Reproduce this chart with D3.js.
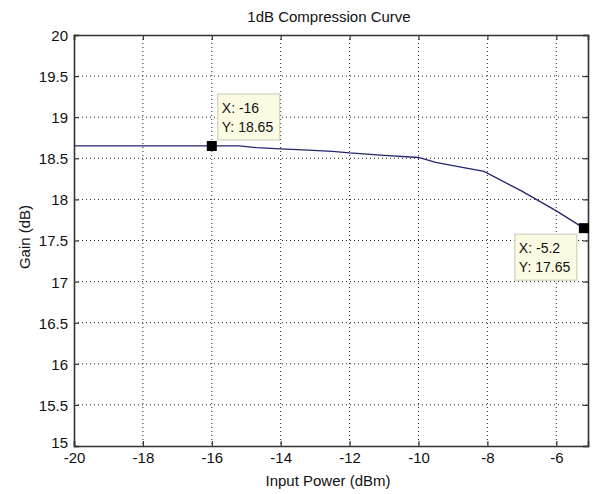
<!DOCTYPE html>
<html><head><meta charset="utf-8">
<script src="https://cdn.jsdelivr.net/npm/d3@7/dist/d3.min.js"></script>
<style>body{margin:0;background:#fff}svg{display:block}text{font-family:"Liberation Sans",Arial,sans-serif;fill:#111}</style>
</head><body><svg id="c" width="595" height="494"></svg>
<script>
const inputPower = [-20, -18, -16, -15.2, -14.7, -14, -13.2, -12.5, -12, -11, -10, -9.5, -9, -8.1, -7, -6, -5.2];
const gain =       [18.65, 18.65, 18.65, 18.65, 18.63, 18.615, 18.60, 18.585, 18.565, 18.535, 18.51, 18.45, 18.41, 18.34, 18.10, 17.86, 17.65];
const xTicks = [-20, -18, -16, -14, -12, -10, -8, -6];
const yTicks = [15, 15.5, 16, 16.5, 17, 17.5, 18, 18.5, 19, 19.5, 20];
const tips = [{x: -16, y: 18.65}, {x: -5.2, y: 17.65}];
const title = "1dB Compression Curve", xLabel = "Input Power (dBm)", yLabel = "Gain (dB)";

const L = 74, R = 588, T = 35, B = 446;
const svg = d3.select("#c");
const x = d3.scaleLinear().domain([-20, -5.08]).range([L, R]);
const y = d3.scaleLinear().domain([15, 20]).range([B, T]);

// grid
const g = svg.append("g");
g.selectAll(".gx").data(xTicks.filter(d => d > -20)).enter().append("line")
  .attr("x1", d => x(d)).attr("x2", d => x(d)).attr("y1", T).attr("y2", B)
  .attr("stroke", "#222").attr("stroke-width", 1).attr("stroke-dasharray", "1,3");
g.selectAll(".gy").data(yTicks.filter(d => d > 15 && d < 20)).enter().append("line")
  .attr("y1", d => y(d)).attr("y2", d => y(d)).attr("x1", L).attr("x2", R)
  .attr("stroke", "#222").attr("stroke-width", 1).attr("stroke-dasharray", "1,3");

// axes
const fmt = d => String(d);
const ax = svg.append("g").attr("transform", `translate(0,${B})`)
  .call(d3.axisBottom(x).tickValues(xTicks).tickSize(-5).tickPadding(9).tickFormat(fmt));
const axT = svg.append("g").attr("transform", `translate(0,${T})`)
  .call(d3.axisTop(x).tickValues(xTicks).tickSize(-5).tickFormat(""));
const ay = svg.append("g").attr("transform", `translate(${L},0)`)
  .call(d3.axisLeft(y).tickValues(yTicks).tickSize(-5).tickPadding(6).tickFormat(fmt));
const ayR = svg.append("g").attr("transform", `translate(${R},0)`)
  .call(d3.axisRight(y).tickValues(yTicks).tickSize(-5).tickFormat(""));
[ax, axT, ay, ayR].forEach(a => {
  a.selectAll("path").attr("stroke", "#333").attr("stroke-width", 1.6);
  a.selectAll("line").attr("stroke", "#333").attr("stroke-width", 1.2);
  a.selectAll("text").attr("font-size", 15).attr("fill", "#111")
    .style("font-family", '"Liberation Sans",Arial,sans-serif');
});
ay.selectAll("text").attr("dy", "0.36em");
ay.selectAll("text").filter(d => d === 15).attr("dy", "0.1em");
ax.selectAll("text").attr("dy", "0.55em");

// line
svg.append("path").datum(inputPower.map((d, i) => [d, gain[i]]))
  .attr("d", d3.line().x(d => x(d[0])).y(d => y(d[1])))
  .attr("fill", "none").attr("stroke", "#24246e").attr("stroke-width", 1.3);

// datatips
svg.selectAll(".mk").data(tips).enter().append("rect")
  .attr("x", d => x(d.x) - 5).attr("y", d => y(d.y) - 5).attr("width", 10).attr("height", 10)
  .attr("fill", "#000");
const boxes = [{dx: 6, dy: -52}, {dx: -69, dy: 6}];
tips.forEach((d, i) => {
  const bx = x(d.x) + boxes[i].dx, by = y(d.y) + boxes[i].dy;
  svg.append("rect").attr("x", bx).attr("y", by).attr("width", 62).attr("height", 46)
    .attr("fill", "#fbfbe4").attr("stroke", "#c8c8b0").attr("stroke-width", 1);
  svg.append("text").attr("x", bx + 4).attr("y", by + 19).attr("font-size", 14).text("X: " + d.x);
  svg.append("text").attr("x", bx + 4).attr("y", by + 38).attr("font-size", 14).text("Y: " + d.y.toFixed(2));
});

// labels
svg.append("text").attr("x", 329).attr("y", 22).attr("text-anchor", "middle").attr("font-size", 15).text(title);
svg.append("text").attr("x", 328).attr("y", 486).attr("text-anchor", "middle").attr("font-size", 15).text(xLabel);
svg.append("text").attr("transform", `translate(30,${237}) rotate(-90)`).attr("text-anchor", "middle").attr("font-size", 15).text(yLabel);
</script></body></html>
